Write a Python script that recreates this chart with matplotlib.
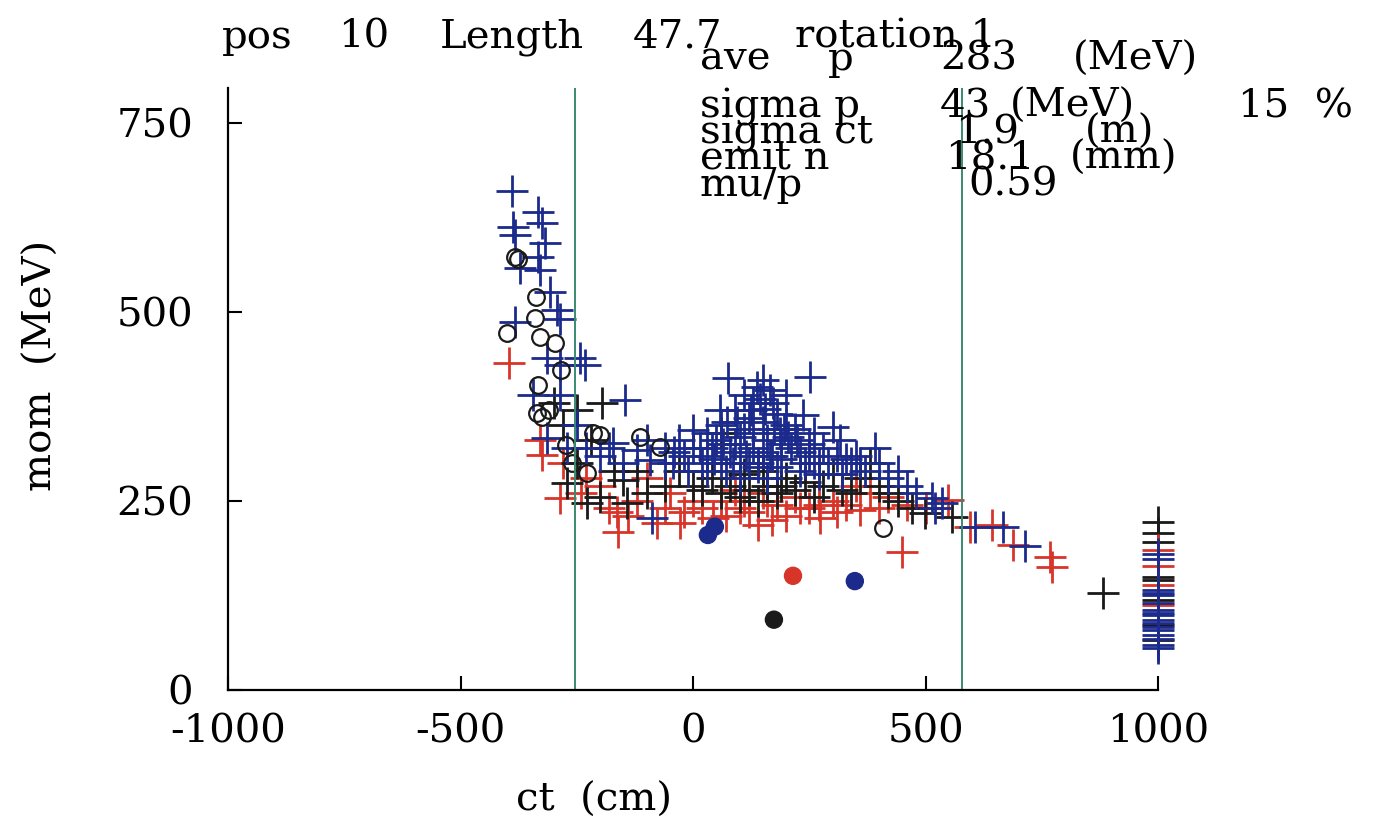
import numpy as np
import matplotlib
matplotlib.use('Agg')
from matplotlib import pyplot as plt

plt.rcParams['font.family'] = ['DejaVu Serif']
plt.rcParams['axes.unicode_minus'] = False

# blue crosses (ct [cm], mom [MeV])
blue_ct = [-389, -333, -325, -387, -383, -318, -333, -329, -372, -308, -292, -286, -383,
           -314, -286, -243, -232, -344, -286, -146, -314, -172, -120, -92, -43, -88,
           -250, -270, -200, -150, -60,
           75, 150, 252, 137, 166, 58, 129, 172, 237, 0, 30, 73, 101, 187, 224, 301, 316, 391,
           110, 120, 150, 200, 260, 40, 80, 130, 170, 210, 250, 290, 340, 20, -20, 60, 100,
           140, 180, 230, 270, 320, 370, 420, 100, 160, -10,
           0, 30, 50, 90, 110, 130, 160, 190, 220, 250, 280, 310, 350, -60, -30, 90, 180,
           200, 145, 60, -100, -180, -230, 260, 400, 440, 460, 120, 150, 190, 70, 30, 240,
           95, 125, 155, 175, 205, 115, 140, 165, 85, 45, 15, 230, 270, 330, 360, 195, 65, -40,
           514, 535, 606, 667, 714, 480, 520]
blue_mom = [660, 632, 618, 612, 602, 591, 573, 556, 558, 526, 503, 491, 487,
            439, 430, 439, 430, 390, 390, 384, 333, 327, 317, 304, 300, 228,
            350, 320, 310, 300, 320,
            413, 410, 414, 401, 397, 370, 380, 380, 364, 344, 340, 354, 335, 340, 331, 348, 331, 320,
            390, 360, 355, 350, 340, 320, 315, 320, 310, 320, 310, 300, 300, 300, 310, 300, 300,
            295, 295, 290, 285, 285, 290, 280, 280, 280, 290,
            320, 310, 330, 325, 345, 340, 330, 325, 345, 325, 320, 310, 310, 300, 330, 370, 365,
            390, 385, 350, 330, 320, 320, 300, 300, 290, 270, 300, 315, 305, 290, 290, 300,
            355, 370, 372, 345, 335, 310, 300, 310, 300, 305, 320, 315, 300, 305, 300, 345, 325, 315,
            254, 247, 216, 216, 190, 260, 240]

# red crosses
red_ct = [-396, -325, -280, -286, -161, -163, -77, 43, 140, 273, 359, -28, 449, 548, 596,
          643, 688, 768, 772, -330, -230, -120, -50, 0, 60, 100, 180, 220, 300, 330, 380,
          420, 460, 150, 250, 90, -200, -100, 350, 200,
          -240, -180, -140, -60, -20, 20, 70, 120, 170, 230, 270, 310, 400, 500, 160, 110]
red_mom = [432, 311, 300, 254, 209, 235, 221, 228, 218, 228, 238, 221, 183, 251, 216,
           218, 192, 176, 163, 330, 280, 250, 260, 250, 250, 240, 245, 255, 250, 245, 260,
           255, 245, 260, 240, 265, 270, 280, 270, 230,
           260, 240, 230, 240, 235, 240, 230, 235, 225, 240, 245, 235, 240, 240, 250, 250]

# black crosses
black_ct = [-196, -271, -228, -150, -142, 499, 557, 882, -250, -220, -170, -100, -30, 40,
            80, 120, 160, 200, 240, 280, 320, 360, 400, 440, 470, -280, -300, -60, 20, 60, 380,
            -250, -200, 0, 100, 140, 180, 220, 300, 340, 420, -120, 60,
            110, 150, 190, 260]
black_mom = [380, 274, 247, 278, 247, 234, 229, 128, 370, 330, 290, 260, 290, 280,
             270, 265, 270, 280, 275, 270, 265, 280, 270, 250, 240, 350, 380, 270, 265, 340, 300,
             300, 255, 270, 255, 250, 260, 265, 285, 260, 260, 290, 260,
             285, 290, 270, 255]

# open circles
circ_ct = [-376, -383, -338, -340, -400, -329, -297, -284, -333, -335, -325, -215, -200,
           -114, -71, -273, -228, 409, -260, -310]
circ_mom = [570, 573, 520, 492, 472, 467, 459, 423, 403, 366, 361, 340, 337,
            335, 321, 324, 287, 214, 300, 370]

# filled dots
dot_ct = [32, 47, 348, 215, 174]
dot_mom = [205, 216, 144, 151, 93]
dot_col = ['#1c2a8c', '#1c2a8c', '#1c2a8c', '#d8352a', '#1a1a1a']

# particles piled up at ct = 1000
col_black = [222, 208, 196, 149, 145, 119, 86, 66]
col_red = [185, 164, 139, 112]
col_blue = [180, 173, 132, 128, 125, 115, 106, 102, 99, 93, 89, 83, 79, 73, 68, 60, 56]

# vertical marker lines
vlines = [-254, 578]

fig = plt.figure(figsize=(13.8, 8.3), dpi=100)
ax = fig.add_axes([228/1380, 1-690/830, (1158-228)/1380, (690-88)/830])

red = '#d8352a'
blue = '#1c2a8c'
black = '#1a1a1a'
ms = 23
mew = 2
fs = 29

ax.plot(red_ct, red_mom, '+', color=red, ms=ms, mew=mew, ls='None')
ax.plot(black_ct, black_mom, '+', color=black, ms=ms, mew=mew, ls='None')
ax.plot(blue_ct, blue_mom, '+', color=blue, ms=ms, mew=mew, ls='None')
ax.plot([1000]*len(col_black), col_black, '+', color=black, ms=ms, mew=mew, ls='None', clip_on=False)
ax.plot([1000]*len(col_red), col_red, '+', color=red, ms=ms, mew=mew, ls='None', clip_on=False)
ax.plot([1000]*len(col_blue), col_blue, '+', color=blue, ms=ms, mew=mew, ls='None', clip_on=False)
ax.plot(circ_ct, circ_mom, 'o', mfc='none', mec=black, ms=12, mew=1.6, ls='None')
ax.scatter(dot_ct, dot_mom, s=150, c=dot_col, zorder=3)

for v in vlines:
    ax.axvline(v, color='#3a8a72', lw=1.4)

ax.set_xlim(-1000, 1000)
ax.set_ylim(0, 796)
ax.spines['top'].set_visible(False)
ax.spines['right'].set_visible(False)
for s in ['left', 'bottom']:
    ax.spines[s].set_linewidth(1.6)

xt = [-1000, -500, 0, 500, 1000]
yt = [0, 250, 500, 750]
ax.set_xticks(xt)
ax.set_xticklabels([str(v) for v in xt])
ax.set_yticks(yt)
ax.set_yticklabels([str(v) for v in yt])
ax.tick_params(axis='x', direction='in', length=10, width=1.5, pad=17, labelsize=fs)
ax.tick_params(axis='y', direction='in', length=10, width=1.5, pad=25, labelsize=fs)

ax.set_xlabel('ct  (cm)', fontsize=fs)
ax.set_ylabel('mom  (MeV)', fontsize=fs)
ax.xaxis.set_label_coords((594-228)/930, -(782-690)/602)
ax.yaxis.set_label_coords((60-228)/930, (690-365)/602)

def ftext(x, y, s):
    fig.text(x/1380, 1-y/830, s, fontsize=fs, va='baseline', ha='left')

# header line
ftext(222, 48, 'pos')
ftext(338, 48, '10')
ftext(440, 48, 'Length')
ftext(633, 48, '47.7')
ftext(795, 48, 'rotation 1')
# statistics block
ftext(700, 70, 'ave')
ftext(828, 70, 'p')
ftext(940, 70, '283')
ftext(1073, 70, '(MeV)')
ftext(700, 117, 'sigma p')
ftext(940, 117, '43')
ftext(1010, 117, '(MeV)')
ftext(1238, 117, '15  %')
ftext(700, 143, 'sigma ct')
ftext(955, 143, '1.9')
ftext(1085, 143, '(m)')
ftext(700, 169, 'emit n')
ftext(945, 169, '18.1')
ftext(1070, 169, '(mm)')
ftext(700, 196, 'mu/p')
ftext(968, 196, '0.59')

fig.savefig('out.png', dpi=100, facecolor='white')
